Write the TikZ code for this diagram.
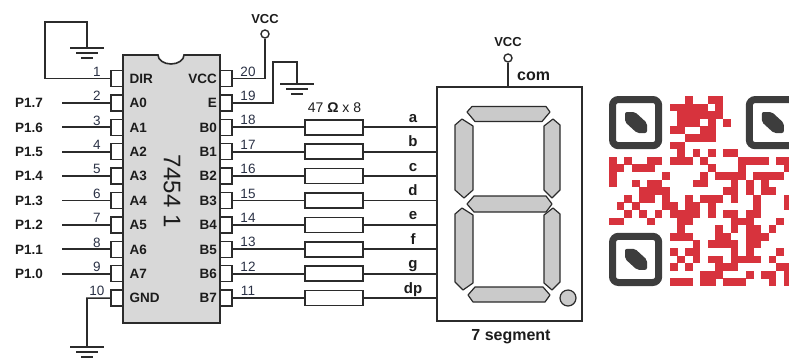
\documentclass[tikz,border=0pt]{standalone}
\usepackage{fontspec}
\setmainfont{Liberation Sans}
\definecolor{ink}{HTML}{2B2B2B}
\definecolor{txt}{HTML}{1C1C1C}
\definecolor{chipgray}{HTML}{D8D8D8}
\definecolor{seggray}{HTML}{CACACA}
\definecolor{numblue}{HTML}{2A3145}
\definecolor{qrred}{HTML}{D7333D}
\definecolor{qrgray}{HTML}{3D3D3D}
\begin{document}
\begin{tikzpicture}[x=1pt,y=-1pt,
  wire/.style={draw=ink, line width=1.7pt},
  pinbox/.style={draw=ink, line width=1.4pt, fill=white, minimum width=12pt, minimum height=16pt, inner sep=0pt},
  resbox/.style={draw=ink, line width=1.6pt, fill=white, minimum width=58pt, minimum height=15pt, inner sep=0pt},
  term/.style={circle, draw=ink, line width=1.4pt, fill=white, minimum size=8pt, inner sep=0pt},
  lbl/.style={font=\fontsize{13.5}{16}\selectfont\bfseries, text=txt, inner sep=0pt},
  pinno/.style={font=\fontsize{13.5}{16}\selectfont, text=numblue, inner sep=0pt},
  seglbl/.style={font=\fontsize{15}{18}\selectfont\bfseries, text=txt, inner sep=0pt},
  segshape/.style={fill=seggray, draw=ink, line width=1.2pt, line join=round},
  gnd/.pic={
    \draw[wire] (-17,0) -- (17,0);
    \draw[wire] (-11,5) -- (11,5);
    \draw[wire] (-6,10) -- (6,10);
  }]
\useasboundingbox (0,0) rectangle (789,360);

% ---------- QR code ----------
\pgfmathsetseed{541}
\foreach \r in {0,...,24}{
  \foreach \c in {0,...,24}{
    \pgfmathtruncatemacro\inF{((\r<8)&&(\c<8))||((\r<8)&&(\c>16))||((\r>16)&&(\c<8))}
    \pgfmathrandominteger{\bit}{0}{1}
    \ifnum\inF=0 \ifnum\bit=1
      \fill[qrred] (609+\c*7.6, 96+\r*7.6) rectangle ++(7.7,7.7);
    \fi\fi
  }
}
\foreach \fx/\fy in {609/96, 745.8/96, 609/232.8}{
  \draw[qrgray, line width=7pt, rounded corners=6pt]
    (\fx+3.5,\fy+3.5) rectangle (\fx+49.7,\fy+49.7);
  \fill[qrgray, rounded corners=2pt]
    (\fx+16,\fy+16) -- (\fx+26,\fy+16) -- (\fx+38,\fy+27) -- (\fx+38,\fy+37)
    -- (\fx+28,\fy+37) -- (\fx+16,\fy+26) -- cycle;
}

% ---------- 74541 buffer ----------
\draw[fill=chipgray, draw=ink, line width=1.6pt]
  (123,55) -- (158,55) arc[start angle=180, end angle=360, x radius=13pt, y radius=9pt]
  -- (220,55) -- (220,323) -- (123,323) -- cycle;
\node[font=\fontsize{24}{28}\selectfont, text=txt, rotate=-90, inner sep=0pt] (ic) at (172,191) {7454 1};

\foreach \i/\ln/\rn in {1/DIR/VCC, 2/A0/E, 3/A1/B0, 4/A2/B1, 5/A3/B2, 6/A4/B3,
                        7/A5/B4, 8/A6/B5, 9/A7/B6, 10/GND/B7}{
  \pgfmathsetmacro\y{78.5+(\i-1)*24.4}
  \pgfmathtruncatemacro\j{21-\i}
  \node[pinbox] (L\i) at (117,\y) {};
  \node[pinbox] (R\j) at (226,\y) {};
  \node[lbl, anchor=base west] (ln\i) at (129.5,\y+4.8) {\ln};
  \node[lbl, anchor=base east] (rn\j) at (217,\y+4.8) {\rn};
  \node[pinno, anchor=base] (nl\i) at (97,\y-2.2) {\i};
  \node[pinno, anchor=base] (nr\j) at (248,\y-2.5) {\j};
}

% port 1 inputs
\foreach \i/\p in {2/P1.7, 3/P1.6, 4/P1.5, 5/P1.4, 6/P1.3, 7/P1.2, 8/P1.1, 9/P1.0}{
  \pgfmathsetmacro\y{78.5+(\i-1)*24.4}
  \node[lbl, anchor=base west] (p\i) at (15,\y+4.8) {\p};
  \coordinate (w\i) at (62,\y);
  \draw[wire] (w\i) -- (L\i.west);
}

% DIR tied to ground
\coordinate (g1) at (87,48);
\draw[wire] (L1.west) -- (45,78.5) -- (45,22) -- (87,22) -- (g1);
\pic at (g1) {gnd};

% GND pin
\coordinate (g10) at (87,347);
\draw[wire] (L10.west) -- (87,298.1) -- (g10);
\pic at (g10) {gnd};

% VCC pin
\node[term] (vcc1) at (265,34) {};
\node[lbl, font=\fontsize{13}{15}\selectfont\bfseries, anchor=base] (vcc1t) at (265,23) {VCC};
\draw[wire] (R20.east) -- (265,78.5) -- (vcc1.south);

% E tied to ground
\coordinate (g19) at (297,84);
\draw[wire] (R19.east) -- (273,102.9) -- (273,62) -- (297,62) -- (g19);
\pic at (g19) {gnd};

% ---------- seven-segment display ----------
\node[draw=ink, line width=1.6pt, minimum width=145pt, minimum height=234pt, inner sep=0pt] (seg) at (509.5,204) {};
\node[term] (vcc2) at (508,58) {};
\node[lbl, font=\fontsize{13}{15}\selectfont\bfseries, anchor=base] (vcc2t) at (508,46) {VCC};
\draw[wire] (vcc2.south) -- (vcc2.south |- seg.north);
\node[seglbl, font=\fontsize{16}{18}\selectfont\bfseries, anchor=base west] (com) at (517,80) {com};
\node[seglbl, font=\fontsize{16}{18}\selectfont\bfseries, anchor=base] (segname) at (511,340) {7 segment};

% segments a-g and decimal point
\draw[segshape] (467,112) -- (472,106.5) -- (546,106.5) -- (550,112) -- (542,121.5) -- (475,121.5) -- cycle; % a
\draw[segshape] (544,126) -- (553,119) -- (560,125) -- (560,190) -- (552,198) -- (544,190) -- cycle;       % b
\draw[segshape] (544,215) -- (553,208) -- (560,214) -- (560,282) -- (552,290) -- (544,283) -- cycle;       % c
\draw[segshape] (468,295) -- (475,287) -- (543,287) -- (550,295) -- (545,302) -- (473,302) -- cycle;       % d
\draw[segshape] (455,214) -- (462,208) -- (473,215) -- (473,283) -- (463,290) -- (455,282) -- cycle;       % e
\draw[segshape] (455,125) -- (462,119) -- (473,126) -- (473,190) -- (464,198) -- (455,190) -- cycle;       % f
\draw[segshape] (467,204) -- (474,196) -- (546,196) -- (552,204) -- (546,212) -- (474,212) -- cycle;       % g
\draw[segshape] (568,298) circle[radius=8pt];                                                              % dp

% current-limiting resistors
\node[font=\fontsize{14}{16}\selectfont, text=txt, anchor=base, inner sep=0pt] (rval) at (334.5,112.5) {47 {\bfseries Ω} x 8};
\foreach \j/\s in {18/a, 17/b, 16/c, 15/d, 14/e, 13/f, 12/g, 11/dp}{
  \pgfmathsetmacro\y{78.5+(20-\j)*24.4}
  \node[resbox] (res\j) at (334,\y) {};
  \draw[wire] (R\j.east) -- (res\j.west);
  \draw[wire] (res\j.east) -- (res\j.east -| seg.west);
  \node[seglbl, anchor=base] (s\j) at (413,\y-5) {\s};
}
\end{tikzpicture}
\end{document}
